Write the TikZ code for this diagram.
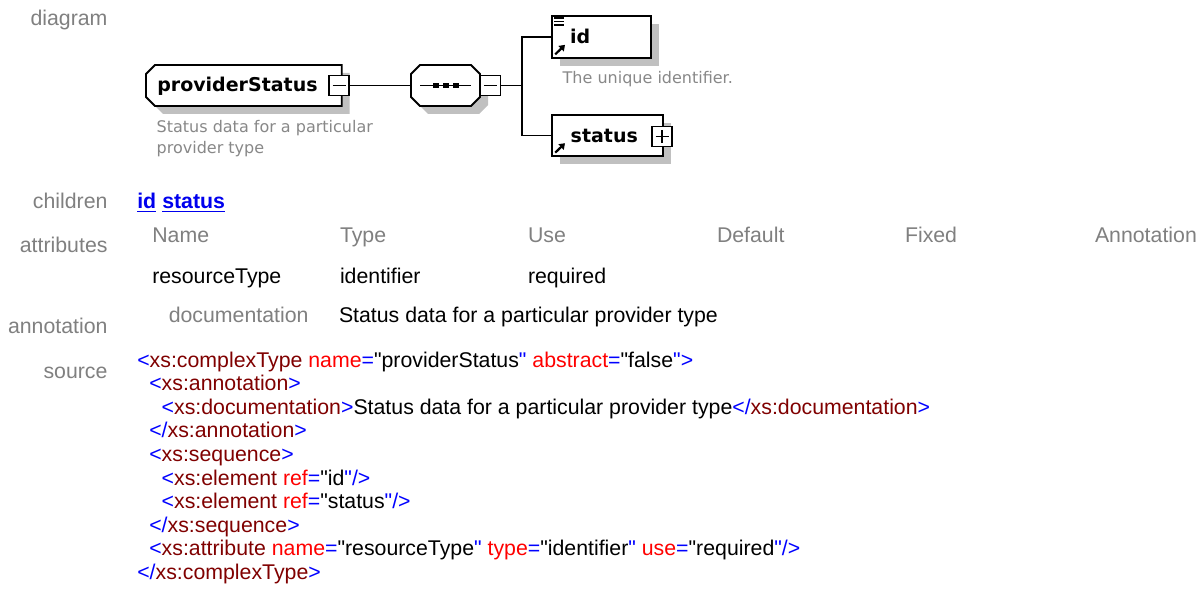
\documentclass[tikz,border=0pt]{standalone}
\usepackage{fontspec}
\setmainfont{Liberation Sans}[Ligatures=TeXOff]
\newfontfamily\boxfont{DejaVu Sans}
\usetikzlibrary{arrows.meta}

\definecolor{labelgray}{RGB}{128,128,128}
\definecolor{notegray}{RGB}{136,136,136}
\definecolor{shadowgray}{RGB}{192,192,192}
\definecolor{tagblue}{RGB}{0,0,255}
\definecolor{elemred}{RGB}{128,0,0}
\definecolor{attrred}{RGB}{255,0,0}
\definecolor{linkblue}{RGB}{0,0,238}

% XML source colouring
\newcommand\tg[1]{\textcolor{tagblue}{#1}}
\newcommand\en[1]{\textcolor{elemred}{#1}}
\newcommand\an[1]{\textcolor{attrred}{#1}}
\newcommand\qt{"}

% outline of a complex type box: left corners cut
\newcommand\tabpath[3]{%
  ([shift={(9+#2,#3)}]#1.north west) -- ([shift={(#2,#3)}]#1.north east) --
  ([shift={(#2,#3)}]#1.south east) -- ([shift={(9+#2,#3)}]#1.south west) --
  ([shift={(#2,-9+#3)}]#1.south west) -- ([shift={(#2,9+#3)}]#1.north west) -- cycle}
% outline of a compositor: all four corners cut
\newcommand\octpath[3]{%
  ([shift={(9+#2,#3)}]#1.north west) -- ([shift={(-9+#2,#3)}]#1.north east) --
  ([shift={(#2,9+#3)}]#1.north east) -- ([shift={(#2,-9+#3)}]#1.south east) --
  ([shift={(-9+#2,#3)}]#1.south east) -- ([shift={(9+#2,#3)}]#1.south west) --
  ([shift={(#2,-9+#3)}]#1.south west) -- ([shift={(#2,9+#3)}]#1.north west) -- cycle}

\begin{document}
\begin{tikzpicture}[x=1pt,y=-1pt,
  txt/.style={anchor=base west, inner sep=0pt, outer sep=0pt,
    font=\fontsize{21.3}{23.55}\selectfont},
  lbl/.style={anchor=base east, inner sep=0pt, outer sep=0pt, text=labelgray,
    font=\fontsize{21.3}{23.55}\selectfont},
  hdr/.style={txt, text=labelgray},
  link/.style={txt, text=linkblue, font=\fontsize{21.3}{23.55}\selectfont\bfseries},
  boxname/.style={anchor=base west, inner sep=0pt, outer sep=0pt,
    font=\boxfont\bfseries\fontsize{19}{22}\selectfont},
  note/.style={anchor=base west, inner sep=0pt, outer sep=0pt, text=notegray,
    font=\boxfont\fontsize{16}{21.3}\selectfont},
  area/.style={inner sep=0pt, outer sep=0pt, draw=none},
  outline/.style={draw=black, line width=1.8pt, fill=white, line join=miter},
  shade/.style={fill=shadowgray, draw=none},
  wire/.style={draw=black, line width=1.6pt},
  toggle/.style={draw=black, line width=1.5pt, fill=white, minimum size=20pt,
    inner sep=0pt, outer sep=0pt},
  sign/.style={draw=black, line width=1.5pt},
  icon/.style={draw=black, line width=1.5pt},
  refarrow/.style={line width=2.2pt, -{Triangle[length=5.5pt,width=7.5pt]}},
]
\fill[white] (0,0) rectangle (1202,593);
\useasboundingbox (0,0) rectangle (1202,593);

% ---------- section labels ----------
\node[lbl] (ldiagram)    at (107.5,26)    {diagram};
\node[lbl] (lchildren)   at (107.5,208.3) {children};
\node[lbl] (lattributes) at (107.5,252.7) {attributes};
\node[lbl] (lannotation) at (107.5,334)   {annotation};
\node[lbl] (lsource)     at (107.5,379)   {source};

% ---------- diagram ----------
\node[area, minimum width=195.7pt, minimum height=41pt] (ps)     at (243.85,85.5) {};
\node[area, minimum width=69pt,    minimum height=41pt] (seq)    at (445.5,85.5)  {};
\node[area, minimum width=99.3pt,  minimum height=41.7pt] (id)   at (601.35,36.85) {};
\node[area, minimum width=111pt,   minimum height=41pt] (status) at (607.2,135.5) {};

% drop shadows
\fill[shade] \tabpath{ps}{8}{8};
\fill[shade] \octpath{seq}{8}{8};
\fill[shade] ([shift={(8,8)}]id.north west) rectangle ([shift={(8,8)}]id.south east);
\fill[shade] ([shift={(8,8)}]status.north west) rectangle ([shift={(8,8)}]status.south east);

% boxes
\draw[outline] \tabpath{ps}{0}{0};
\draw[outline] \octpath{seq}{0}{0};
\draw[outline] (id.north west) rectangle (id.south east);
\draw[outline] (status.north west) rectangle (status.south east);

% box texts
\node[boxname] (psname) at (157.3,91.7) {providerStatus};
\node[boxname] (idname) at (570,43.3) {id};
\node[boxname] (stname) at (570.7,142.7) {status};

\node[note] (psdoc1) at (156.7,132.7) {Status data for a particular};
\node[note] (psdoc2) at (156.7,154)   {provider type};
\node[note] (iddoc)  at (562.7,84)    {The unique identifier.};

% sequence symbol
\draw[wire] ([xshift=-25.5pt]seq.center) -- ([xshift=25.2pt]seq.center);
\foreach \dx in {-9.5,0.3,10}
  \fill ([shift={(\dx-3,-2.6)}]seq.center) rectangle ([shift={(\dx+3,2.6)}]seq.center);

% documentation icon in id
\foreach \dy in {2.2,5.7,9.2}
  \draw[icon] ([shift={(2.3,\dy)}]id.north west) -- ([shift={(11.8,\dy)}]id.north west);

% reference arrows
\draw[refarrow] ([shift={(3.5,-3.3)}]id.south west) -- ([shift={(13.3,-12.8)}]id.south west);
\draw[refarrow] ([shift={(3.5,-3.3)}]status.south west) -- ([shift={(13.3,-12.8)}]status.south west);

% expand / collapse toggles
\node[toggle] (psm)  at (339.2,85.5) {};
\node[toggle] (seqm) at (490.3,85.5) {};
\node[toggle] (stp)  at (662.2,136.3) {};
\draw[sign] ([xshift=-6.5pt]psm.center) -- ([xshift=6.5pt]psm.center);
\draw[sign] ([xshift=-6.5pt]seqm.center) -- ([xshift=6.5pt]seqm.center);
\draw[sign] ([xshift=-6.5pt]stp.center) -- ([xshift=6.5pt]stp.center);
\draw[sign] ([yshift=-6.5pt]stp.center) -- ([yshift=6.5pt]stp.center);

% connectors
\coordinate (fork) at (521.7,85.5);
\draw[wire] (psm.east) -- (seq.west);
\draw[wire] (seqm.east) -- (fork);
\draw[wire] (id.west) -- (id.west -| fork) -- (status.west -| fork) -- (status.west);

% ---------- children ----------
\node[link] (chid) at (137.3,208.3) {id};
\node[link] (chstatus) at (162.3,208.3) {status};
\draw[linkblue, line width=1.6pt] ([yshift=-3.3pt]chid.base west) -- ([yshift=-3.3pt]chid.base east);
\draw[linkblue, line width=1.6pt] ([yshift=-3.3pt]chstatus.base west) -- ([yshift=-3.3pt]chstatus.base east);

% ---------- attributes table ----------
\node[hdr] (hname)    at (152.3,243) {Name};
\node[hdr] (htype)    at (340,243)   {Type};
\node[hdr] (huse)     at (528,243)   {Use};
\node[hdr] (hdefault) at (717,243)   {Default};
\node[hdr] (hfixed)   at (905,243)   {Fixed};
\node[hdr] (hannot)   at (1095,243)  {Annotation};
\node[txt] (rname) at (152.3,283.3) {resourceType};
\node[txt] (rtype) at (340,283.3)   {identifier};
\node[txt] (ruse)  at (528,283.3)   {required};

% ---------- annotation ----------
\node[lbl] (adockey) at (308.5,323) {documentation};
\node[txt] (adocval) at (339,323) {Status data for a particular provider type};

% ---------- source ----------
\node[txt] (s1)  at (137.3,367.3) {\tg{<}\en{xs:complexType} \an{name}\tg{=}\qt providerStatus\tg{\qt} \an{abstract}\tg{=}\qt false\tg{\qt>}};
\node[txt] (s2)  at (149.3,390.85) {\tg{<}\en{xs:annotation}\tg{>}};
\node[txt] (s3)  at (161.7,414.4) {\tg{<}\en{xs:documentation}\tg{>}Status data for a particular provider type\tg{</}\en{xs:documentation}\tg{>}};
\node[txt] (s4)  at (149.3,437.95) {\tg{</}\en{xs:annotation}\tg{>}};
\node[txt] (s5)  at (149.3,461.5) {\tg{<}\en{xs:sequence}\tg{>}};
\node[txt] (s6)  at (161.7,485.05) {\tg{<}\en{xs:element} \an{ref}\tg{=}\qt id\tg{\qt/>}};
\node[txt] (s7)  at (161.7,508.6) {\tg{<}\en{xs:element} \an{ref}\tg{=}\qt status\tg{\qt/>}};
\node[txt] (s8)  at (149.3,532.15) {\tg{</}\en{xs:sequence}\tg{>}};
\node[txt] (s9)  at (149.3,555.7) {\tg{<}\en{xs:attribute} \an{name}\tg{=}\qt resourceType\tg{\qt} \an{type}\tg{=}\qt identifier\tg{\qt} \an{use}\tg{=}\qt required\tg{\qt/>}};
\node[txt] (s10) at (137.3,579.25) {\tg{</}\en{xs:complexType}\tg{>}};
\end{tikzpicture}
\end{document}
